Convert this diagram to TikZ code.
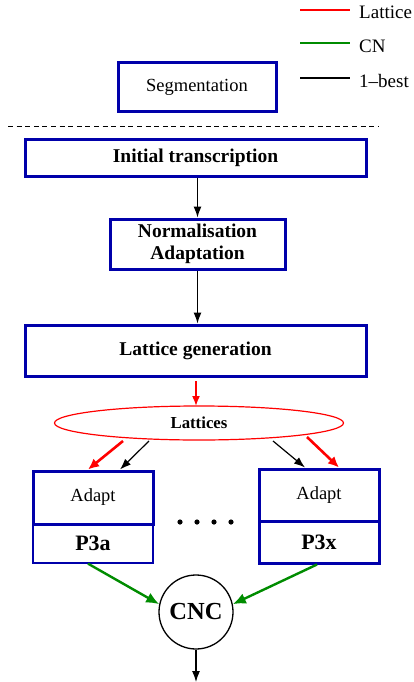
\documentclass[tikz,border=0pt]{standalone}
\usepackage{fontspec}
\setmainfont{Liberation Serif}
\usetikzlibrary{arrows.meta,shapes.geometric}
\definecolor{boxblue}{RGB}{0,0,170}
\definecolor{cngreen}{RGB}{0,140,0}
\definecolor{latred}{RGB}{255,0,0}
\tikzset{
  box/.style={draw=boxblue, line width=3pt, inner sep=0pt, align=center},
  thinbox/.style={draw=boxblue, line width=1.3pt, inner sep=0pt, align=center},
  regtxt/.style={font=\fontsize{18.5}{22}\selectfont},
  boldtxt/.style={font=\fontsize{19.5}{22}\selectfont\bfseries},
  blackarr/.style={draw=black, line width=1.2pt, -{Latex[length=11pt,width=8pt]}},
  redarr/.style={draw=latred, line width=2.6pt, -{Latex[length=11pt,width=10pt]}},
  redthin/.style={draw=latred, line width=1.6pt, -{Latex[length=10pt,width=8pt]}},
  greenarr/.style={draw=cngreen, line width=2.4pt, -{Latex[length=13pt,width=11pt]}},
  legline/.style={line width=2.6pt},
  legtxt/.style={font=\fontsize{19}{22}\selectfont, anchor=west, inner sep=0pt}
}
\begin{document}
\begin{tikzpicture}[x=1pt,y=-1pt]
\useasboundingbox (0,0) rectangle (414,682);
% legend
\coordinate (lr1) at (300,10); \coordinate (lr2) at (350,10);
\coordinate (lg1) at (300,43); \coordinate (lg2) at (350,43);
\coordinate (lb1) at (300,78); \coordinate (lb2) at (350,78);
\draw[legline, latred] (lr1) -- (lr2);
\draw[legline, cngreen] (lg1) -- (lg2);
\draw[legline, black] (lb1) -- (lb2);
\node[legtxt] (tl) at (359,12) {Lattice};
\node[legtxt] (tc) at (359,46) {CN};
\node[legtxt] (tb) at (359,81) {1--best};
% segmentation
\node[box, regtxt, minimum width=158pt, minimum height=49pt] (seg) at (197,87.5) {Segmentation};
% dashed separator
\coordinate (d1) at (8,126.5); \coordinate (d2) at (379,126.5);
\draw[line width=1.3pt, dash pattern=on 5pt off 3.6pt] (d1) -- (d2);
% main chain
\node[box, boldtxt, minimum width=341pt, minimum height=37pt] (init) at (195.5,158) {Initial transcription};
\node[box, boldtxt, minimum width=175pt, minimum height=50pt] (norm) at (197.5,244) {Normalisation\\Adaptation};
\node[box, boldtxt, minimum width=341pt, minimum height=51pt] (lgen) at (195.5,350.5) {Lattice generation};
\node[draw=latred, line width=1.2pt, ellipse, minimum width=289pt, minimum height=34pt, inner sep=0pt,
      font=\fontsize{16.8}{20}\selectfont\bfseries] (lat) at (199,423) {Lattices};
\draw[blackarr] (init.south -| norm.north) -- (norm.north);
\draw[blackarr] (norm.south) -- (norm.south |- lgen.north);
\coordinate (rs) at (196,381);
\coordinate (re) at (196,406);
\draw[redthin] (rs) -- (re);
% P3 boxes
\node[thinbox, font=\fontsize{22}{24}\selectfont\bfseries, minimum width=120pt, minimum height=39pt] (pa) at (93,543.5) {P3a};
\node[box, regtxt, minimum width=120pt, minimum height=53pt] (aa) at (93,497.5) {Adapt};
\node[box, font=\fontsize{22}{24}\selectfont\bfseries, minimum width=120pt, minimum height=42pt] (px) at (319,542) {P3x};
\node[box, regtxt, minimum width=120pt, minimum height=52pt] (ax) at (319,495) {Adapt};
% dots
\foreach \i/\xx in {1/180,2/197,3/214,4/231}{
  \fill (\xx,522) circle (2.6pt);
}
% lattice to adapt arrows
\coordinate (s1) at (123,441);
\coordinate (s2) at (149,441);
\coordinate (s3) at (273,441);
\coordinate (s4) at (307,437);
\draw[redarr] (s1) -- ([xshift=-5pt]aa.north);
\draw[blackarr] (s2) -- ([xshift=27pt]aa.north);
\draw[blackarr] (s3) -- ([xshift=-14pt]ax.north);
\draw[redarr] (s4) -- ([xshift=20pt]ax.north);
% CNC
\node[circle, draw=black, line width=1.3pt, minimum size=74pt, inner sep=0pt,
      font=\fontsize{24.5}{26}\selectfont\bfseries] (cnc) at (196,612) {CNC};
\draw[greenarr] ([xshift=-5pt]pa.south) -- (cnc.168);
\draw[greenarr] ([xshift=-2pt]px.south) -- (cnc.12);
\coordinate (out) at (196,682);
\draw[blackarr] (cnc.south) -- (out);
\end{tikzpicture}
\end{document}
